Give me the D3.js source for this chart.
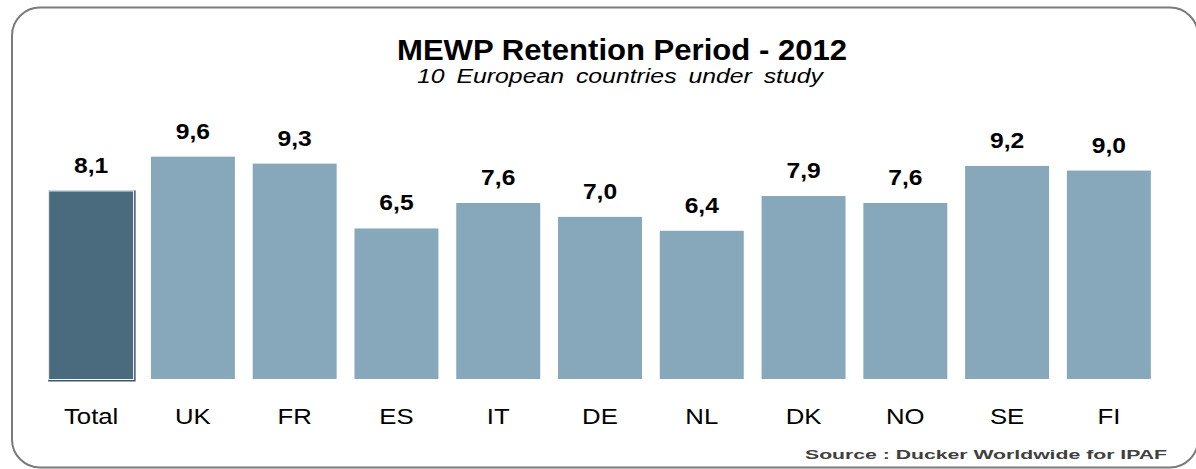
<!DOCTYPE html>
<html>
<head>
<meta charset="utf-8">
<script src="https://cdn.jsdelivr.net/npm/d3@7/dist/d3.min.js"></script>
<style>
  html, body { margin: 0; padding: 0; background: #fff; }
  svg { display: block; font-family: Arial, "Liberation Sans", sans-serif; }
</style>
</head>
<body>
<svg id="chart" width="1196" height="469"></svg>
<script>
const categories = ["Total", "UK", "FR", "ES", "IT", "DE", "NL", "DK", "NO", "SE", "FI"];
const values = [8.1, 9.6, 9.3, 6.5, 7.6, 7.0, 6.4, 7.9, 7.6, 9.2, 9.0];
const valueLabels = ["8,1", "9,6", "9,3", "6,5", "7,6", "7,0", "6,4", "7,9", "7,6", "9,2", "9,0"];
const title = "MEWP Retention Period - 2012";
const subtitle = "10 European countries under study";
const source = "Source : Ducker Worldwide for IPAF";

const svg = d3.select("#chart");
const SX = 1.12; // horizontal stretch of the original rendering

// frame
svg.append("rect")
  .attr("x", 12).attr("y", 7.5)
  .attr("width", 1186).attr("height", 460)
  .attr("rx", 28).attr("ry", 28)
  .attr("fill", "#fff")
  .attr("stroke", "#7a7a7a")
  .attr("stroke-width", 2);

// scales
const x = d3.scaleBand()
  .domain(categories)
  .range([40, 1160])
  .paddingInner(0.175)
  .paddingOuter(0.09);

const y = d3.scaleLinear()
  .domain([0, 10])
  .range([379, 379 - 231.6]);

const data = categories.map((c, i) => ({ c, v: values[i], label: valueLabels[i] }));

const g = svg.append("g");

// Total bar shadow/outline
const tot = data[0];
g.append("rect")
  .attr("x", x(tot.c) - 1)
  .attr("y", y(tot.v) - 1)
  .attr("width", x.bandwidth() + 3.5)
  .attr("height", y(0) - y(tot.v) + 3.5)
  .attr("fill", "#3c596b");
g.append("rect")
  .attr("x", x(tot.c) - 1)
  .attr("y", y(tot.v) - 1)
  .attr("width", x.bandwidth() + 2)
  .attr("height", y(0) - y(tot.v) + 2)
  .attr("fill", "#ffffff");

g.selectAll("rect.bar")
  .data(data)
  .join("rect")
  .attr("class", "bar")
  .attr("x", d => x(d.c))
  .attr("y", d => y(d.v))
  .attr("width", x.bandwidth())
  .attr("height", d => y(0) - y(d.v))
  .attr("fill", (d, i) => i === 0 ? "#4a6a7e" : "#87a8bb");

// value labels
g.selectAll("text.val")
  .data(data)
  .join("text")
  .attr("class", "val")
  .attr("transform", d => `translate(${x(d.c) + x.bandwidth() / 2},${y(d.v) - 18}) scale(${SX},1)`)
  .attr("text-anchor", "middle")
  .attr("font-size", 22)
  .attr("font-weight", "bold")
  .attr("fill", "#000")
  .text(d => d.label);

// category axis labels
const xAxis = d3.axisBottom(x).tickSize(0).tickPadding(0);
const ax = svg.append("g")
  .attr("transform", "translate(0,379)")
  .call(xAxis);
ax.select(".domain").remove();
ax.selectAll("text")
  .attr("dy", 0)
  .attr("y", 0)
  .attr("transform", `translate(0,45) scale(${SX},1)`)
  .attr("font-size", 23)
  .attr("font-family", "Arial, 'Liberation Sans', sans-serif")
  .attr("fill", "#000");
// keep tick centres unscaled: move scaling into each text around its own origin
ax.selectAll(".tick text").each(function () {
  d3.select(this).attr("transform", `translate(0,45) scale(${SX},1)`);
});

// title
svg.append("text")
  .attr("x", 622).attr("y", 60)
  .attr("text-anchor", "middle")
  .attr("font-size", 29)
  .attr("font-weight", "bold")
  .attr("textLength", 450)
  .attr("lengthAdjust", "spacingAndGlyphs")
  .attr("fill", "#000")
  .text(title);

svg.append("text")
  .attr("x", 620).attr("y", 83)
  .attr("text-anchor", "middle")
  .attr("font-size", 20)
  .attr("font-style", "italic")
  .attr("word-spacing", 4)
  .attr("textLength", 406)
  .attr("lengthAdjust", "spacingAndGlyphs")
  .attr("fill", "#000")
  .text(subtitle);

// source
svg.append("text")
  .attr("x", 1167).attr("y", 459)
  .attr("text-anchor", "end")
  .attr("font-size", 13)
  .attr("font-weight", "bold")
  .attr("textLength", 362)
  .attr("lengthAdjust", "spacingAndGlyphs")
  .attr("fill", "#404040")
  .text(source);
</script>
</body>
</html>
